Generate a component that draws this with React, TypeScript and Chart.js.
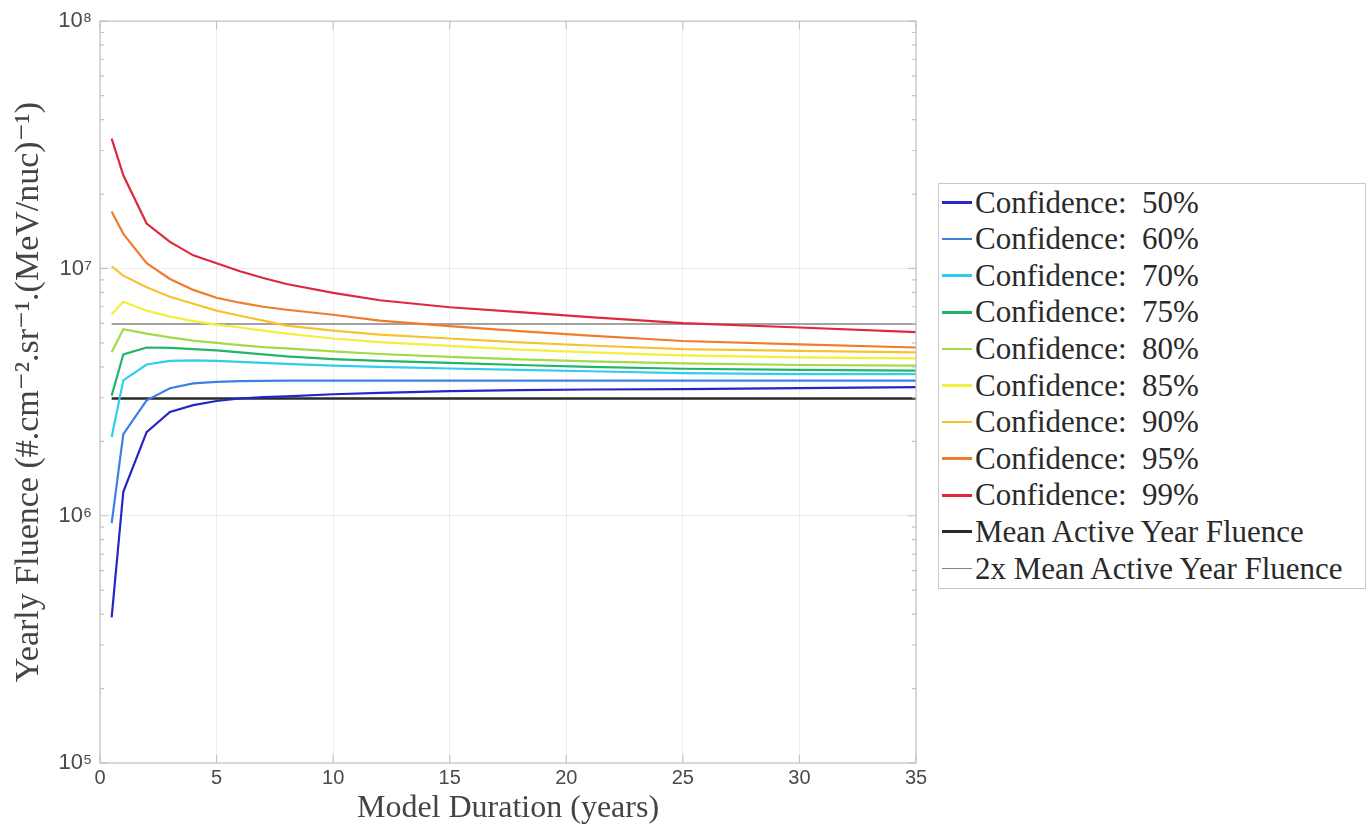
import React, { useEffect, useRef } from 'react';
import { Chart, registerables } from 'chart.js';
Chart.register(...registerables);

// ---- data ----
const years = [0.5, 1, 2, 3, 4, 5, 6, 7, 8, 10, 12, 15, 18, 21, 25, 30, 35];
const conf50 = [3.88e5, 1.25e6, 2.18e6, 2.63e6, 2.8e6, 2.91e6, 2.98e6, 3.02e6, 3.04e6, 3.1e6, 3.14e6, 3.19e6, 3.22e6, 3.24e6, 3.25e6, 3.28e6, 3.31e6];
const conf60 = [9.34e5, 2.14e6, 2.93e6, 3.28e6, 3.43e6, 3.48e6, 3.5e6, 3.51e6, 3.52e6, 3.52e6, 3.52e6, 3.52e6, 3.52e6, 3.52e6, 3.52e6, 3.52e6, 3.52e6];
const conf70 = [2.08e6, 3.53e6, 4.09e6, 4.23e6, 4.25e6, 4.23e6, 4.19e6, 4.15e6, 4.11e6, 4.05e6, 4.0e6, 3.94e6, 3.89e6, 3.84e6, 3.77e6, 3.74e6, 3.74e6];
const conf75 = [3.06e6, 4.49e6, 4.79e6, 4.77e6, 4.72e6, 4.66e6, 4.58e6, 4.49e6, 4.41e6, 4.3e6, 4.23e6, 4.15e6, 4.07e6, 4.0e6, 3.93e6, 3.89e6, 3.86e6];
const conf80 = [4.58e6, 5.68e6, 5.45e6, 5.26e6, 5.11e6, 5.0e6, 4.9e6, 4.81e6, 4.75e6, 4.62e6, 4.51e6, 4.39e6, 4.29e6, 4.21e6, 4.13e6, 4.07e6, 4.05e6];
const conf85 = [6.53e6, 7.33e6, 6.75e6, 6.39e6, 6.12e6, 5.93e6, 5.77e6, 5.61e6, 5.45e6, 5.21e6, 5.04e6, 4.86e6, 4.7e6, 4.58e6, 4.45e6, 4.37e6, 4.33e6];
const conf90 = [1.02e7, 9.35e6, 8.4e6, 7.68e6, 7.2e6, 6.75e6, 6.44e6, 6.15e6, 5.87e6, 5.61e6, 5.4e6, 5.21e6, 5.02e6, 4.88e6, 4.72e6, 4.64e6, 4.58e6];
const conf95 = [1.7e7, 1.38e7, 1.05e7, 9.07e6, 8.19e6, 7.61e6, 7.27e6, 7.0e6, 6.81e6, 6.5e6, 6.15e6, 5.85e6, 5.58e6, 5.35e6, 5.09e6, 4.93e6, 4.79e6];
const conf99 = [3.35e7, 2.38e7, 1.52e7, 1.28e7, 1.13e7, 1.05e7, 9.75e6, 9.15e6, 8.65e6, 7.97e6, 7.44e6, 6.97e6, 6.66e6, 6.36e6, 6.01e6, 5.77e6, 5.53e6];
const refYears = [0.5, 35];
const meanFluence = [2.98e6, 2.98e6];
const twoMeanFluence = [5.96e6, 5.96e6];

const confidenceSeries = [conf50, conf60, conf70, conf75, conf80, conf85, conf90, conf95, conf99];
const confidenceLabels = ['Confidence:  50%', 'Confidence:  60%', 'Confidence:  70%', 'Confidence:  75%', 'Confidence:  80%', 'Confidence:  85%', 'Confidence:  90%', 'Confidence:  95%', 'Confidence:  99%'];
const confidenceColors = ['#2626c6', '#3c80e4', '#30cdec', '#22b46a', '#a4da48', '#f4ee3c', '#f8c22e', '#ef7c2c', '#e0283c'];
const meanLabel = 'Mean Active Year Fluence';
const twoMeanLabel = '2x Mean Active Year Fluence';
const meanColor = '#2a2a2a';
const twoMeanColor = '#858585';

const xTicks = [0, 5, 10, 15, 20, 25, 30, 35];
const yDecades = [5, 6, 7, 8];

const SERIF = "'Liberation Serif', 'DejaVu Serif', serif";
const SANS = "'Liberation Sans', 'DejaVu Sans', sans-serif";
const SUP: Record<string, string> = { '0': '⁰', '1': '¹', '2': '²', '3': '³', '4': '⁴', '5': '⁵', '6': '⁶', '7': '⁷', '8': '⁸', '9': '⁹' };

function isDecade(v: number) {
  const l = Math.log10(v);
  return Math.abs(l - Math.round(l)) < 1e-9;
}

const framePlugin = {
  id: 'frame',
  afterDatasetsDraw(chart: any) {
    const { ctx, chartArea: a, scales } = chart;
    ctx.save();
    ctx.strokeStyle = '#c4c4c4';
    ctx.lineWidth = 1.2;
    ctx.beginPath();
    scales.x.ticks.forEach((t: any) => {
      const px = scales.x.getPixelForValue(t.value);
      ctx.moveTo(px, a.bottom);
      ctx.lineTo(px, a.bottom - 8);
      ctx.moveTo(px, a.top);
      ctx.lineTo(px, a.top + 8);
    });
    scales.y.ticks.forEach((t: any) => {
      const py = scales.y.getPixelForValue(t.value);
      const len = isDecade(t.value) ? 8 : 4;
      ctx.moveTo(a.left, py);
      ctx.lineTo(a.left + len, py);
      ctx.moveTo(a.right, py);
      ctx.lineTo(a.right - len, py);
    });
    ctx.stroke();
    ctx.strokeRect(a.left, a.top, a.right - a.left, a.bottom - a.top);
    ctx.restore();
  },
};

export default function App() {
  const ref = useRef<HTMLCanvasElement>(null);
  useEffect(() => {
    const datasets: any[] = confidenceSeries.map((s, i) => ({
      label: confidenceLabels[i],
      data: years.map((x, j) => ({ x, y: s[j] })),
      borderColor: confidenceColors[i],
      backgroundColor: confidenceColors[i],
      borderWidth: 2.2,
      pointRadius: 0,
      tension: 0,
    }));
    datasets.push({
      label: meanLabel,
      data: refYears.map((x, j) => ({ x, y: meanFluence[j] })),
      borderColor: meanColor,
      backgroundColor: meanColor,
      borderWidth: 2.6,
      pointRadius: 0,
    });
    datasets.push({
      label: twoMeanLabel,
      data: refYears.map((x, j) => ({ x, y: twoMeanFluence[j] })),
      borderColor: twoMeanColor,
      backgroundColor: twoMeanColor,
      borderWidth: 1.6,
      pointRadius: 0,
    });
    const chart = new Chart(ref.current!, {
      type: 'line',
      data: { datasets },
      plugins: [framePlugin],
      options: {
        animation: false,
        responsive: true,
        maintainAspectRatio: false,
        layout: { padding: { top: 17, right: 24, left: 0, bottom: 0 } },
        plugins: { legend: { display: false }, tooltip: { enabled: false } },
        scales: {
          x: {
            type: 'linear',
            min: 0,
            max: 35,
            afterFit: (s: any) => { s.height = 65; },
            afterBuildTicks: (s: any) => { s.ticks = xTicks.map((v) => ({ value: v })); },
            ticks: { color: '#4a4a4a', font: { family: SANS, size: 20 }, padding: 3, maxRotation: 0 },
            grid: { color: 'rgba(0,0,0,0.07)', drawTicks: false },
            border: { display: false },
            title: {
              display: true,
              text: 'Model Duration (years)',
              color: '#444',
              font: { family: SERIF, size: 32 },
              padding: { top: 0, bottom: 0 },
            },
          },
          y: {
            type: 'logarithmic',
            min: 1e5,
            max: 1e8,
            afterFit: (s: any) => { s.width = 100; },
            afterBuildTicks: (s: any) => {
              const t: any[] = [];
              for (let k = 0; k < yDecades.length; k++) {
                const e = yDecades[k];
                if (k === yDecades.length - 1) { t.push({ value: Math.pow(10, e) }); break; }
                for (let m = 1; m <= 9; m++) t.push({ value: m * Math.pow(10, e) });
              }
              s.ticks = t;
            },
            ticks: {
              autoSkip: false,
              color: '#4a4a4a',
              font: { family: SANS, size: 22 },
              padding: 8,
              callback: (v: any) => {
                const n = Number(v);
                if (!isDecade(n)) return '';
                const e = String(Math.round(Math.log10(n)));
                return '10' + e.split('').map((c) => SUP[c]).join('');
              },
            },
            grid: {
              drawTicks: false,
              color: (c: any) => (c.tick && isDecade(c.tick.value) ? 'rgba(0,0,0,0.07)' : 'rgba(0,0,0,0)'),
            },
            border: { display: false },
            title: {
              display: true,
              text: 'Yearly Fluence (#.cm⁻².sr⁻¹.(MeV/nuc)⁻¹)',
              color: '#444',
              font: { family: SERIF, size: 34 },
              padding: { top: 9, bottom: 0 },
            },
          },
        },
      },
    });
    return () => chart.destroy();
  }, []);

  const legendItems = [
    ...confidenceLabels.map((l, i) => ({ label: l, color: confidenceColors[i], w: 2.5 })),
    { label: meanLabel, color: meanColor, w: 3 },
    { label: twoMeanLabel, color: twoMeanColor, w: 1.8 },
  ];

  return (
    <div style={{ position: 'fixed', left: 0, top: 0, width: 1368, height: 828, background: '#fff' }}>
      <div style={{ position: 'absolute', left: 0, top: 0, width: 940, height: 828 }}>
        <canvas ref={ref} />
      </div>
      <div
        style={{
          position: 'absolute',
          left: 938,
          top: 183,
          width: 428,
          height: 406,
          border: '1.5px solid #c8c8c8',
          background: '#fff',
          boxSizing: 'border-box',
        }}
      >
        {legendItems.map((it, i) => (
          <div
            key={i}
            style={{
              position: 'absolute',
              left: 0,
              top: 18.5 + i * 36.6 - 18,
              height: 36,
              display: 'flex',
              alignItems: 'center',
              whiteSpace: 'pre',
            }}
          >
            <div style={{ width: 30, height: it.w, background: it.color, marginLeft: 3, marginRight: 3 }} />
            <span style={{ fontFamily: SERIF, fontSize: 31, color: '#2a2a2a', lineHeight: '36px' }}>{it.label}</span>
          </div>
        ))}
      </div>
    </div>
  );
}
